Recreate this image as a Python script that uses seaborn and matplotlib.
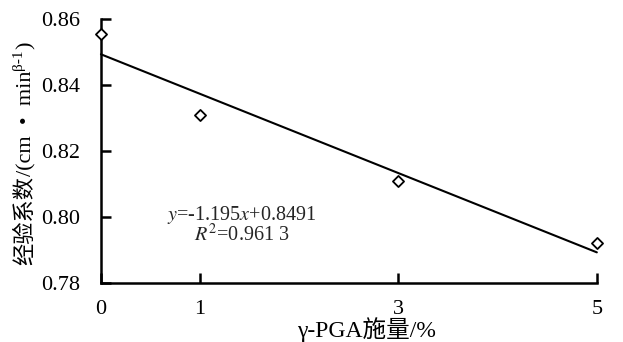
import matplotlib
matplotlib.use("Agg")
import matplotlib.pyplot as plt
import seaborn as sns
import pandas as pd

# data
pga_dose = [0, 1, 3, 5]
coef = [0.8555, 0.8309, 0.8109, 0.7921]
x_ticks = [0, 1, 3, 5]
y_ticks = [0.78, 0.80, 0.82, 0.84, 0.86]
x_label = "γ-PGA施量/%"
y_label_parts = ["经验系数", "/(cm  •  min", "β-1", ")"]
eq_text = r"$\mathit{y}$=-1.195$\mathit{x}$+0.8491"
r2_text = r"$\mathit{R}^2$=0.961 3"

sns.set_theme(style="ticks")
FAM = ['Liberation Serif', 'Noto Sans CJK SC']
plt.rcParams['font.family'] = FAM
plt.rcParams['mathtext.fontset'] = 'stix'

df = pd.DataFrame({"dose": pga_dose, "coef": coef})

fig = plt.figure(figsize=(6.23, 3.42), dpi=100)
ax = fig.add_axes([0.162, 0.172, 0.796, 0.772])

sns.regplot(data=df, x="dose", y="coef", ci=None, scatter=False, ax=ax,
            line_kws=dict(color="black", lw=1.5))
sns.scatterplot(data=df, x="dose", y="coef", ax=ax, marker="D", s=32,
                facecolor="white", edgecolor="black", linewidth=1.3, zorder=3)

ax.set_xlim(0, 5)
ax.set_ylim(0.78, 0.86)
ax.set_xticks(x_ticks)
ax.set_xticklabels([str(v) for v in x_ticks])
ax.set_yticks(y_ticks)
ax.set_yticklabels([f"{v:.2f}" for v in y_ticks])
ax.tick_params(direction="in", length=7, width=1.8, labelsize=16, colors="black")
ax.tick_params(axis="y", pad=15)
ax.tick_params(axis="x", pad=12)
for s in ["top", "right"]:
    ax.spines[s].set_visible(False)
for s in ["left", "bottom"]:
    ax.spines[s].set_linewidth(1.8)
    ax.spines[s].set_color("black")
for c in ax.get_children():
    try:
        c.set_clip_on(False)
    except Exception:
        pass

ax.set_xlabel("")
ax.set_ylabel("")
fig.text(366 / 623, 1 - 330 / 342, x_label, ha="center", va="center", fontsize=17,
         color="black")

ax.text(1.42, 0.8006, eq_text, ha="center", va="center", fontsize=14.5)
ax.text(1.42, 0.7945, r2_text, ha="center", va="center", fontsize=14.5)

# rotated y label assembled from pieces
fig.canvas.draw()
renderer = fig.canvas.get_renderer()
base_x = 31
y = 342 - 265
sizes = [16, 16, 11, 16]
xoffs = [0, 0, -9, 0]
for part, fs, xo in zip(y_label_parts, sizes, xoffs):
    t = fig.text(base_x + xo, y, part, rotation=90, rotation_mode="anchor",
                 ha="left", va="baseline", fontsize=fs, color="black",
                 transform=None)
    bb = t.get_window_extent(renderer)
    y = bb.y1 + (1 if fs < 12 else 0)

fig.savefig("out.png", dpi=100)
